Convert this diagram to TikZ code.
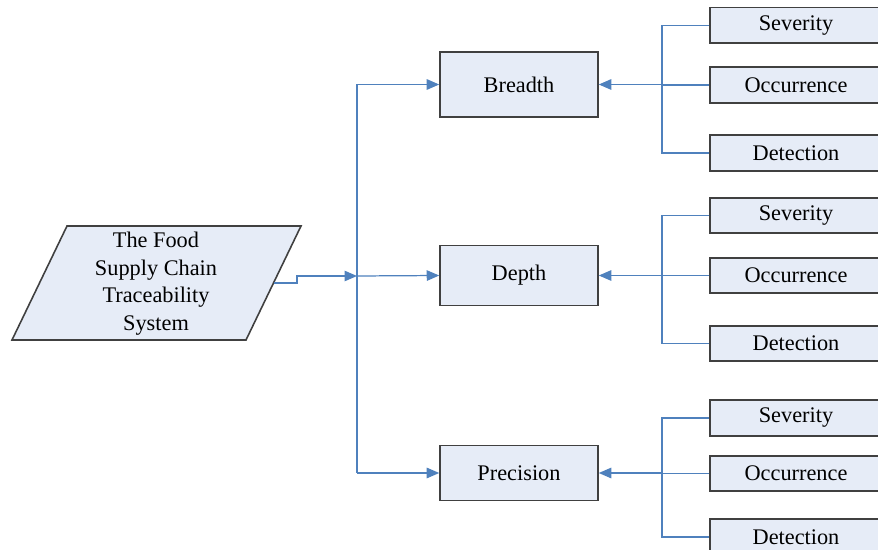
\documentclass[tikz,border=0pt]{standalone}
\usepackage{fontspec}
\setmainfont{Liberation Serif}
\usetikzlibrary{arrows.meta}
\definecolor{boxfill}{RGB}{230,236,247}
\definecolor{boxedge}{RGB}{64,64,64}
\definecolor{linkblue}{RGB}{79,129,189}
\tikzset{
main_item/.style={rectangle, draw=boxedge, fill=boxfill, line width=0.9pt, minimum width=3.16cm, font=\fontsize{12.7}{15.7}\selectfont},
crit_item/.style={rectangle, draw=boxedge, fill=boxfill, line width=0.9pt, minimum width=3.44cm, minimum height=0.71cm, font=\fontsize{12.7}{15.7}\selectfont},
system/.style={draw=boxedge, fill=boxfill, line width=0.9pt},
link/.style={draw=linkblue, line width=0.7pt},
tip/.style={-{Triangle[length=0.25cm, width=0.21cm]}}
}

\begin{document}
\begin{tikzpicture}[x=0.02cm, y=-0.02cm]
    \useasboundingbox (0,0) rectangle (878,550);
    \clip (0,0) rectangle (878,550);
    % input system
    \draw[system] (67,226) -- (301,226) -- (246,340) -- (12,340) -- cycle;
    \node[align=center, font=\fontsize{12.7}{15.7}\selectfont] (system_text) at (156,283.5) {The Food\\Supply Chain\\Traceability\\System};
    \coordinate (system_out) at (273.5,283);
    % three measures
    \node[main_item, minimum height=1.3cm] (breadth) at (519,84.5) {Breadth};
    \node[main_item, minimum height=1.2cm] (depth) at (519,275.5) {Depth};
    \node[main_item, minimum height=1.1cm] (precision) at (519,473) {Precision};
    \coordinate (split) at (357,276);
    \draw[link, tip] (system_out) -- ++(23.5,0) |- (split);
    \draw[link] (split |- breadth.west) -- (split |- precision.west);
    \draw[link, tip] (split |- breadth.west) -- (breadth.west);
    \draw[link, tip] (split) -- (depth.west);
    \draw[link, tip] (split |- precision.west) -- (precision.west);
    % criteria of each measure
    \foreach \m/\ys/\yo/\yd in {breadth/25.3/85/153, depth/215.5/275.5/343.5, precision/418/473.5/537}{
        \node[crit_item] (sev_\m) at (796,\ys) {Severity};
        \node[crit_item] (occ_\m) at (796,\yo) {Occurrence};
        \node[crit_item] (det_\m) at (796,\yd) {Detection};
        \coordinate (bus_\m) at (662,\ys);
        \draw[link] (sev_\m.west) -- (bus_\m) -- (bus_\m |- det_\m.west) -- (det_\m.west);
        \draw[link] (occ_\m.west) -- (occ_\m.west -| bus_\m);
        \draw[link, tip] (\m.east -| bus_\m) -- (\m.east);
    }
\end{tikzpicture}
\end{document}
